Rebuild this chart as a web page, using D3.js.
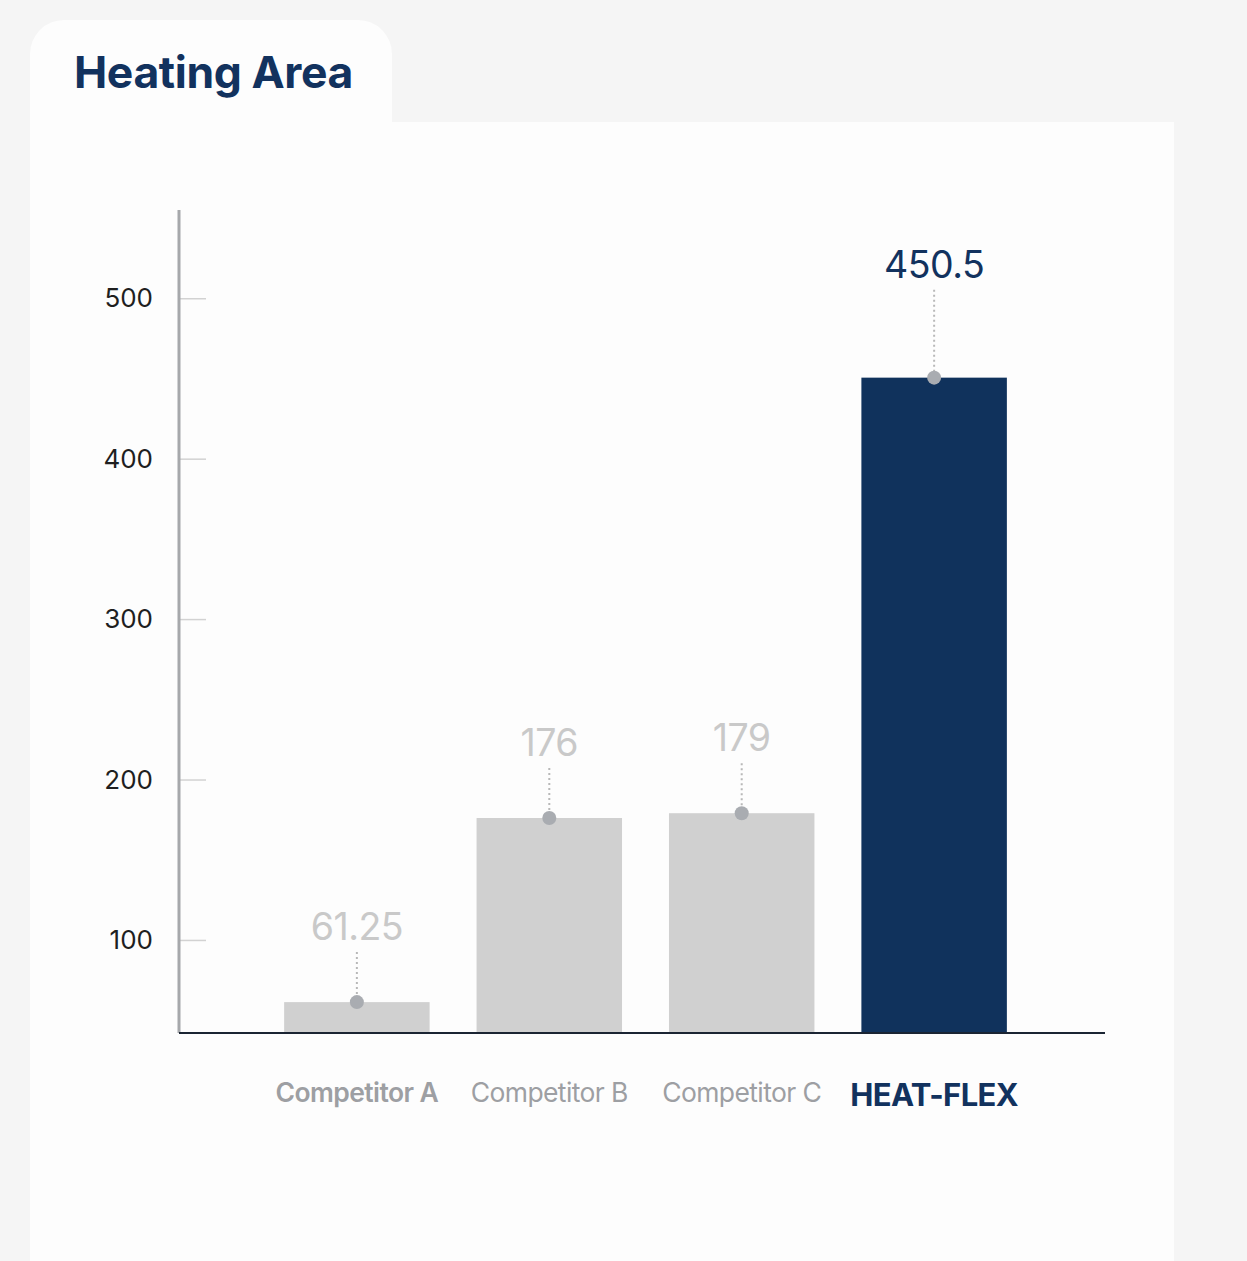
<!DOCTYPE html>
<html>
<head>
<meta charset="utf-8">
<script src="https://cdn.jsdelivr.net/npm/d3@7"></script>
<style>
  html, body { margin: 0; padding: 0; background: #f5f5f5; }
  svg { display: block; font-family: Inter, 'Noto Sans', sans-serif; }
</style>
</head>
<body>
<div id="chart"></div>
<script>
// data
const categories = ['Competitor A', 'Competitor B', 'Competitor C', 'HEAT-FLEX'];
const values = [61.25, 176, 179, 450.5];
const labels = ['61.25', '176', '179', '450.5'];
const highlight = [false, false, false, true];
const yTicks = [100, 200, 300, 400, 500];

const W = 1247;
const H = 1261;
const NAVY = '#12325e';

const $svg = d3.select('#chart').append('svg')
  .attr('width', W)
  .attr('height', H);

// card with title tab
$svg.append('rect')
  .attr('x', 30).attr('y', 20)
  .attr('width', 362).attr('height', 160)
  .attr('rx', 34)
  .attr('fill', '#fdfdfd');
$svg.append('rect')
  .attr('x', 30).attr('y', 122)
  .attr('width', 1144).attr('height', H)
  .attr('fill', '#fdfdfd');
$svg.append('rect')
  .attr('x', 30).attr('y', 60)
  .attr('width', 40).attr('height', 80)
  .attr('fill', '#fdfdfd');

$svg.append('text')
  .attr('x', 74).attr('y', 88)
  .attr('fill', NAVY)
  .style('font-size', '44.5px')
  .style('font-weight', 700)
  .style('letter-spacing', '-0.4px')
  .text('Heating Area');

// scales
const x = d3.scaleBand()
  .domain(categories)
  .range([186, 1105])
  .paddingInner(0.244)
  .paddingOuter(0.51);

const y = d3.scaleLinear()
  .domain([42, 555])
  .range([1033, 210]);

// y axis
const $yAxis = $svg.append('g')
  .attr('transform', 'translate(179,0)')
  .call(d3.axisRight(y).tickValues(yTicks).tickSize(27).tickFormat(''));
$yAxis.select('.domain').remove();
$yAxis.selectAll('.tick line').attr('stroke', '#d2d2d2').attr('stroke-width', 1.5);

$svg.append('line')
  .attr('x1', 179).attr('x2', 179)
  .attr('y1', y.range()[1]).attr('y2', y.range()[0])
  .attr('stroke', '#a6a8ab')
  .attr('stroke-width', 3);

$svg.append('g')
  .selectAll('text')
  .data(yTicks)
  .join('text')
  .attr('x', 153)
  .attr('y', d => y(d))
  .attr('dy', '0.35em')
  .attr('text-anchor', 'end')
  .attr('fill', '#1f1f1f')
  .style('font-size', '26px')
  .text(d => d);

// bars
const rows = categories.map((c, i) => ({
  name: c, value: values[i], label: labels[i], hi: highlight[i],
}));

const $bar = $svg.append('g')
  .selectAll('g')
  .data(rows)
  .join('g');

$bar.append('rect')
  .attr('x', d => x(d.name))
  .attr('y', d => y(d.value))
  .attr('width', x.bandwidth())
  .attr('height', d => y.range()[0] - y(d.value))
  .attr('fill', d => (d.hi ? '#10325c' : '#d0d0d0'));

const labelGap = d => (d.hi ? 100 : 62);
const cx = d => x(d.name) + x.bandwidth() / 2;

$bar.append('line')
  .attr('x1', cx).attr('x2', cx)
  .attr('y1', d => y(d.value) - labelGap(d) + 12)
  .attr('y2', d => y(d.value))
  .attr('stroke', '#b8b8b8')
  .attr('stroke-width', 2)
  .attr('stroke-dasharray', '2,3');

$bar.append('circle')
  .attr('cx', cx)
  .attr('cy', d => y(d.value))
  .attr('r', 7)
  .attr('fill', '#a9acb1');

$bar.append('text')
  .attr('x', cx)
  .attr('y', d => y(d.value) - labelGap(d))
  .attr('text-anchor', 'middle')
  .attr('fill', d => (d.hi ? NAVY : '#c9c9c9'))
  .style('font-size', '37.5px')
  .style('letter-spacing', '-0.5px')
  .text(d => d.label);

// x axis baseline
$svg.append('line')
  .attr('x1', 179).attr('x2', 1105)
  .attr('y1', 1033).attr('y2', 1033)
  .attr('stroke', '#1b2533')
  .attr('stroke-width', 2);

$svg.append('g')
  .selectAll('text')
  .data(rows)
  .join('text')
  .attr('x', cx)
  .attr('y', d => (d.hi ? 1095 : 1093))
  .attr('dy', '0.35em')
  .attr('text-anchor', 'middle')
  .attr('fill', d => (d.hi ? NAVY : '#9d9fa3'))
  .style('font-size', d => (d.hi ? '31px' : '26.5px'))
  .style('font-weight', (d, i) => (d.hi ? 700 : i === 0 ? 600 : 400))
  .style('letter-spacing', '-0.6px')
  .text(d => d.name);
</script>
</body>
</html>
